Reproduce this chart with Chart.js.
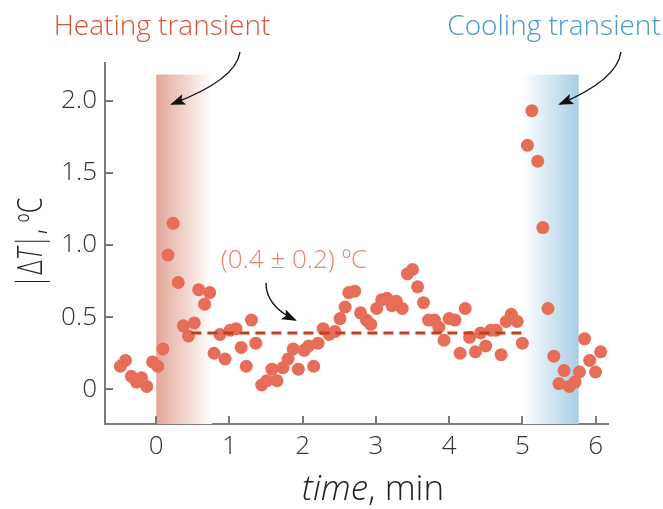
<!DOCTYPE html>
<html>
<head>
<meta charset="utf-8">
<script src="https://cdn.jsdelivr.net/npm/chart.js@4.4.1/dist/chart.umd.min.js"></script>
<style>
  html, body { margin: 0; padding: 0; background: #fff; }
  canvas { display: block; }
</style>
</head>
<body>
<canvas id="chart" width="663" height="509"></canvas>
<script>
// time, min
const timeValues = [
  -0.49, -0.42, -0.34, -0.27, -0.20, -0.13, -0.05, 0.02, 0.09, 0.16,
  0.23, 0.30, 0.37, 0.44, 0.52, 0.58, 0.66, 0.73, 0.79, 0.87,
  0.94, 1.01, 1.09, 1.16, 1.23, 1.30, 1.36, 1.44, 1.51, 1.58,
  1.65, 1.73, 1.80, 1.87, 1.94, 2.02, 2.08, 2.15, 2.21, 2.28,
  2.36, 2.44, 2.51, 2.58, 2.63, 2.71, 2.79, 2.87, 2.93, 3.01,
  3.08, 3.15, 3.22, 3.28, 3.36, 3.43, 3.50, 3.57, 3.65, 3.72,
  3.80, 3.86, 3.93, 4.00, 4.08, 4.15, 4.22, 4.28, 4.36, 4.43,
  4.50, 4.57, 4.64, 4.71, 4.78, 4.85, 4.93, 5.00, 5.07, 5.13,
  5.21, 5.28, 5.35, 5.43, 5.50, 5.57, 5.64, 5.72, 5.78, 5.85,
  5.92, 6.00, 6.07
];
// |ΔT|, ºC
const deltaT = [
  0.16, 0.20, 0.09, 0.05, 0.08, 0.02, 0.19, 0.16, 0.28, 0.93,
  1.15, 0.74, 0.44, 0.37, 0.46, 0.69, 0.59, 0.67, 0.25, 0.38,
  0.21, 0.41, 0.42, 0.29, 0.16, 0.48, 0.32, 0.03, 0.06, 0.14,
  0.06, 0.15, 0.21, 0.28, 0.14, 0.27, 0.30, 0.16, 0.32, 0.42,
  0.38, 0.40, 0.49, 0.57, 0.67, 0.68, 0.53, 0.48, 0.45, 0.56,
  0.62, 0.63, 0.58, 0.61, 0.56, 0.80, 0.83, 0.71, 0.60, 0.48,
  0.48, 0.43, 0.34, 0.49, 0.48, 0.25, 0.56, 0.36, 0.26, 0.39,
  0.30, 0.41, 0.41, 0.24, 0.47, 0.52, 0.47, 0.32, 1.69, 1.93,
  1.58, 1.12, 0.56, 0.23, 0.04, 0.13, 0.02, 0.05, 0.12, 0.35,
  0.20, 0.12, 0.26
];
const meanSpan = [0.48, 4.99];
const meanValue = [0.39, 0.39];
const heatingSpan = [0, 0.76];
const coolingSpan = [5.0, 5.77];
const bandTop = 2.18;
const xTicks = [0, 1, 2, 3, 4, 5, 6];
const yTicks = [0, 0.5, 1, 1.5, 2];

const FONT = '"Open Sans", "DejaVu Sans", sans-serif';
const AXIS_COLOR = '#7a7a7a';

// bandes en dégradé derrière les points
const bandsPlugin = {
  id: 'bands',
  beforeDatasetsDraw(chart) {
    const { ctx, chartArea, scales } = chart;
    const top = scales.y.getPixelForValue(bandTop);
    const bottom = chartArea.bottom;

    const hx0 = scales.x.getPixelForValue(heatingSpan[0]);
    const hx1 = scales.x.getPixelForValue(heatingSpan[1]);
    let g = ctx.createLinearGradient(hx0, 0, hx1, 0);
    g.addColorStop(0, 'rgb(228,166,152)');
    g.addColorStop(1, 'rgba(255,255,255,1)');
    ctx.save();
    ctx.fillStyle = g;
    ctx.fillRect(hx0, top, hx1 - hx0, bottom - top);

    const cx0 = scales.x.getPixelForValue(coolingSpan[0]);
    const cx1 = scales.x.getPixelForValue(coolingSpan[1]);
    g = ctx.createLinearGradient(cx0, 0, cx1, 0);
    g.addColorStop(0, 'rgba(255,255,255,1)');
    g.addColorStop(1, 'rgb(168,205,228)');
    ctx.fillStyle = g;
    ctx.fillRect(cx0, top, cx1 - cx0, bottom - top);
    ctx.restore();
  }
};

function drawArrow(ctx, x0, y0, cx, cy, x1, y1) {
  ctx.beginPath();
  ctx.moveTo(x0, y0);
  ctx.quadraticCurveTo(cx, cy, x1, y1);
  ctx.stroke();
  const ang = Math.atan2(y1 - cy, x1 - cx);
  const len = 13, wid = 5.5;
  const bx = x1 - len * Math.cos(ang), by = y1 - len * Math.sin(ang);
  ctx.beginPath();
  ctx.moveTo(x1 + 2 * Math.cos(ang), y1 + 2 * Math.sin(ang));
  ctx.lineTo(bx + wid * Math.sin(ang), by - wid * Math.cos(ang));
  ctx.lineTo(bx + 3 * Math.cos(ang), by + 3 * Math.sin(ang));
  ctx.lineTo(bx - wid * Math.sin(ang), by + wid * Math.cos(ang));
  ctx.closePath();
  ctx.fill();
}

// texte en segments (normal / italique)
function drawParts(ctx, parts, x, y, size) {
  let total = 0;
  parts.forEach(p => {
    ctx.font = (p.italic ? 'italic ' : '') + '300 ' + size + 'px ' + FONT;
    p.w = ctx.measureText(p.text).width;
    total += p.w;
  });
  let cur = x - total / 2;
  ctx.textAlign = 'left';
  parts.forEach(p => {
    ctx.font = (p.italic ? 'italic ' : '') + '300 ' + size + 'px ' + FONT;
    ctx.fillText(p.text, cur, y);
    cur += p.w;
  });
}

const decorPlugin = {
  id: 'decor',
  afterDraw(chart) {
    const { ctx, chartArea, scales } = chart;
    ctx.save();

    // graduations vers l'intérieur
    ctx.strokeStyle = AXIS_COLOR;
    ctx.lineWidth = 2;
    xTicks.forEach(v => {
      const px = Math.round(scales.x.getPixelForValue(v));
      ctx.beginPath();
      ctx.moveTo(px, chartArea.bottom);
      ctx.lineTo(px, chartArea.bottom - 8);
      ctx.stroke();
    });
    yTicks.forEach(v => {
      const py = Math.round(scales.y.getPixelForValue(v));
      ctx.beginPath();
      ctx.moveTo(chartArea.left, py);
      ctx.lineTo(chartArea.left + 8, py);
      ctx.stroke();
    });

    // titres des transitoires
    ctx.textBaseline = 'middle';
    ctx.textAlign = 'center';
    ctx.font = '300 28px ' + FONT;
    ctx.fillStyle = '#d9533b';
    ctx.fillText('Heating transient', 162, 27);
    ctx.fillStyle = '#4a98cc';
    ctx.fillText('Cooling transient', 554, 27);

    // moyenne
    ctx.fillStyle = '#ec836c';
    ctx.font = '300 26px ' + FONT;
    ctx.fillText('(0.4 \u00b1 0.2) \u00baC', scales.x.getPixelForValue(1.88), scales.y.getPixelForValue(0.89));

    // flèches
    ctx.strokeStyle = '#111';
    ctx.fillStyle = '#111';
    ctx.lineWidth = 1.4;
    drawArrow(ctx, 240, 52, 236, 80, 172, 104);
    drawArrow(ctx, 621, 52, 617, 80, 560, 104);
    drawArrow(ctx, 266, 283, 266, 306, 295, 320);

    // titres des axes
    ctx.fillStyle = '#222';
    ctx.textBaseline = 'alphabetic';
    drawParts(ctx, [{ text: 'time' , italic: true }, { text: ', min' }], 373, 500, 35);

    ctx.translate(42, 243);
    ctx.rotate(-Math.PI / 2);
    ctx.scale(0.74, 1);
    drawParts(ctx, [{ text: '|\u0394' }, { text: 'T', italic: true }, { text: '|, \u00baC' }], 0, 0, 34);

    ctx.restore();
  }
};

const points = timeValues.map((t, i) => ({ x: t, y: deltaT[i] }));
const meanLine = meanSpan.map((t, i) => ({ x: t, y: meanValue[i] }));

new Chart(document.getElementById('chart'), {
  type: 'scatter',
  data: {
    datasets: [
      {
        type: 'line',
        data: meanLine,
        borderColor: '#c73a1f',
        borderWidth: 3,
        borderDash: [10, 6],
        pointRadius: 0,
        fill: false,
        order: 0
      },
      {
        data: points,
        backgroundColor: 'rgb(230,110,88)',
        borderWidth: 0,
        pointRadius: 6.5,
        pointHoverRadius: 6.5,
        order: 1
      }
    ]
  },
  options: {
    responsive: false,
    animation: false,
    events: [],
    layout: { padding: { top: 63, right: 55, left: 0, bottom: 0 } },
    plugins: { legend: { display: false }, tooltip: { enabled: false } },
    scales: {
      x: {
        type: 'linear',
        min: -0.7,
        max: 6.17,
        afterBuildTicks: s => { s.ticks = xTicks.map(v => ({ value: v })); },
        afterFit: s => { s.height = 85; },
        grid: { drawOnChartArea: false, drawTicks: false },
        border: { color: AXIS_COLOR, width: 2 },
        ticks: {
          padding: 7,
          color: '#333',
          font: { family: FONT, size: 26, weight: '300' },
          callback: v => String(v)
        }
      },
      y: {
        type: 'linear',
        min: -0.24,
        max: 2.26,
        afterBuildTicks: s => { s.ticks = yTicks.map(v => ({ value: v })); },
        afterFit: s => { s.width = 105; },
        grid: { drawOnChartArea: false, drawTicks: false },
        border: { color: AXIS_COLOR, width: 2 },
        ticks: {
          padding: 8,
          color: '#333',
          font: { family: FONT, size: 26, weight: '300' },
          callback: v => (v === 0 ? '0' : v.toFixed(1))
        }
      }
    }
  },
  plugins: [bandsPlugin, decorPlugin]
});
</script>
</body>
</html>
